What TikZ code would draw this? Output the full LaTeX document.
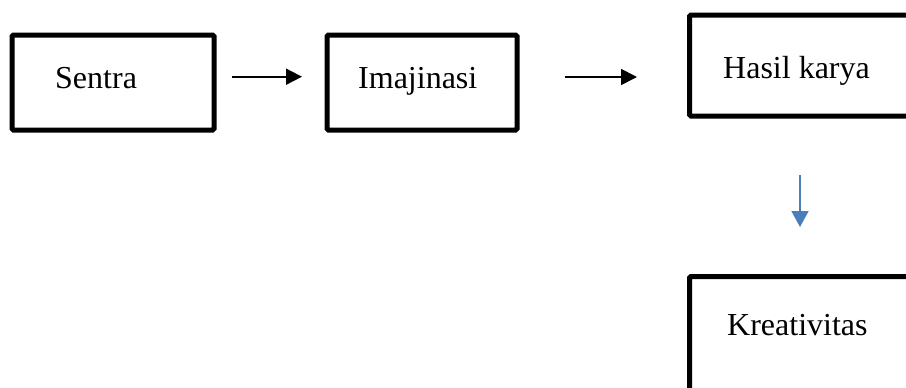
\documentclass[tikz,border=0pt]{standalone}
\usepackage{fontspec}
\setmainfont{Liberation Serif}
\usetikzlibrary{arrows.meta}
\definecolor{arrowblue}{RGB}{74,126,187}
\begin{document}
\begin{tikzpicture}[x=1pt,y=-1pt,
  boxstyle/.style={draw=black,line width=5pt,rounded corners=1.5pt,inner sep=0pt,fill=white},
  lbl/.style={anchor=base west,inner sep=0pt,font=\fontsize{32}{38}\selectfont},
  arr/.style={line width=1.8pt,-{Triangle[length=16pt,width=16pt]}},
  blarr/.style={draw=arrowblue,line width=1.8pt,-{Triangle[length=16pt,width=17pt]}}]
\clip (0,0) rectangle (906,388);
\fill[white] (0,0) rectangle (906,388);
% boxes
\node[boxstyle,minimum width=202pt,minimum height=95pt] (sentra) at (113,82.5) {};
\node[boxstyle,minimum width=190pt,minimum height=95pt] (imaj) at (422,82.5) {};
\node[boxstyle,minimum width=270pt,minimum height=101pt] (hasil) at (824.5,65.5) {};
\node[boxstyle,minimum width=270pt,minimum height=174pt] (kreat) at (824.5,363.5) {};
% labels
\node[lbl] (tsentra) at (55,88) {Sentra};
\node[lbl] (timaj) at (358,88) {Imajinasi};
\node[lbl] (thasil) at (723,78) {Hasil karya};
\node[lbl] (tkreat) at (727,335) {Kreativitas};
% arrow end points
\coordinate (a1s) at (232,76.7);
\coordinate (a1e) at (302,76.7);
\coordinate (a2s) at (565,77);
\coordinate (a2e) at (637,77);
\coordinate (a3s) at (800,175);
\coordinate (a3e) at (800,227);
\draw[arr] (a1s) -- (a1e);
\draw[arr] (a2s) -- (a2e);
\draw[blarr] (a3s) -- (a3e);
\end{tikzpicture}
\end{document}
